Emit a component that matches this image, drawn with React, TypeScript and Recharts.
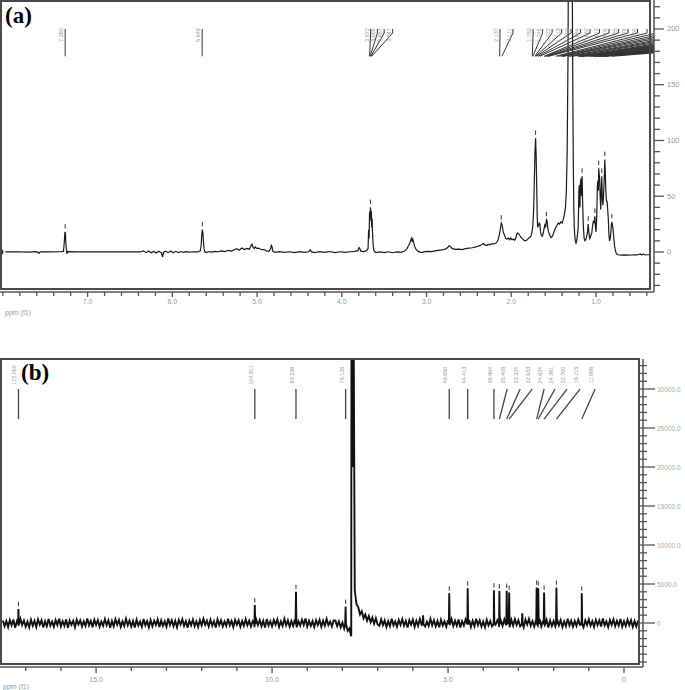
import React from "react";
import {
  ComposedChart,
  Line,
  Scatter,
  XAxis,
  YAxis,
  ReferenceLine,
} from "recharts";

const SANS = "'Liberation Sans', Arial, sans-serif";
const SERIF = "'Liberation Serif', 'Times New Roman', serif";

// ---------- (a) 1H spectrum: [ppm, intensity] ----------
const h1Spectrum: [number, number][] = [
  [8.03, 0], [7.85, 0.2], [7.7, -0.2], [7.6, 0.3], [7.575, -1.2], [7.56, 0.2], [7.45, 0], [7.32, 0.2],
  [7.285, 0.5], [7.275, 9], [7.268, 18], [7.262, 17], [7.255, 6], [7.245, -1.5], [7.235, 0.3], [7.1, 0],
  [6.9, 0.2], [6.7, 0], [6.5, 0.1], [6.38, 0], [6.34, 1], [6.31, -0.6], [6.28, 0.9], [6.25, -0.7],
  [6.22, 0.5], [6.19, -0.9], [6.16, 0.7], [6.13, -0.8], [6.115, -4.5], [6.105, -0.4], [6.08, 0.8],
  [6.05, -0.6], [6.02, 0.9], [5.99, -0.7], [5.96, 0.6], [5.93, -0.5], [5.9, 0.4], [5.87, -0.4],
  [5.84, 0.3], [5.8, -0.2], [5.75, 0.2], [5.7, 0], [5.67, 1], [5.66, 6], [5.652, 16], [5.646, 20],
  [5.64, 18], [5.634, 10], [5.626, 3], [5.615, 0], [5.6, -0.6], [5.57, 0.4], [5.54, -0.2], [5.5, 0.6],
  [5.46, 0.2], [5.42, 1], [5.38, 0.4], [5.34, 1.5], [5.3, 0.8], [5.27, 2], [5.24, 3], [5.21, 1.5],
  [5.18, 3.5], [5.15, 2.2], [5.12, 3.2], [5.09, 2.5], [5.07, 6], [5.06, 7], [5.05, 4.5], [5.035, 3],
  [5.02, 4.5], [5.0, 3], [4.98, 3.5], [4.95, 2], [4.92, 2.2], [4.89, 1], [4.86, 0.6], [4.84, 3],
  [4.832, 6], [4.824, 5], [4.815, 0.8], [4.79, -0.3], [4.74, 0.3], [4.68, -0.4], [4.62, 0.2],
  [4.56, -0.5], [4.5, 0.3], [4.44, -0.3], [4.39, 0.2], [4.37, 2], [4.36, 0.3], [4.32, -0.5],
  [4.26, 0.3], [4.2, -0.4], [4.14, 0.4], [4.08, -0.5], [4.02, 0.2], [3.96, -0.3], [3.9, 0.2],
  [3.85, 0.5], [3.81, 1.2], [3.797, 4], [3.788, 3], [3.776, 0.8], [3.74, 0.4], [3.71, 1.2],
  [3.69, 3], [3.684, 20], [3.678, 12], [3.672, 36], [3.667, 28], [3.662, 40], [3.657, 30],
  [3.652, 37], [3.647, 22], [3.642, 30], [3.637, 16], [3.63, 6], [3.62, 1], [3.6, -0.5], [3.55, 0],
  [3.5, -0.6], [3.45, 0.2], [3.4, -0.7], [3.35, 0], [3.3, -0.4], [3.26, 0.8], [3.23, 3], [3.21, 6],
  [3.195, 8.5], [3.185, 11], [3.175, 12.5], [3.168, 9], [3.16, 11], [3.15, 8], [3.14, 5],
  [3.125, 2.5], [3.1, 0.5], [3.06, -0.6], [3.02, 0.3], [2.98, 0.6], [2.94, 0.4], [2.9, 1],
  [2.86, 1.5], [2.82, 1.8], [2.78, 2.5], [2.75, 4], [2.735, 5.5], [2.72, 5], [2.7, 3.2], [2.66, 2.4],
  [2.62, 2.6], [2.58, 2.2], [2.54, 3], [2.5, 3.5], [2.46, 3.8], [2.42, 4.5], [2.38, 5.5], [2.35, 6.5],
  [2.33, 7.5], [2.31, 6.2], [2.29, 6], [2.27, 6.8], [2.25, 6.5], [2.23, 7.2], [2.2, 7.5], [2.18, 8],
  [2.16, 10], [2.145, 14], [2.13, 20], [2.118, 26], [2.108, 24], [2.095, 18], [2.08, 15], [2.065, 12],
  [2.05, 11.5], [2.035, 12.5], [2.02, 11], [2.005, 12.5], [1.99, 11], [1.975, 11.5], [1.96, 10.5],
  [1.945, 13], [1.935, 16], [1.925, 17], [1.915, 16.5], [1.9, 15], [1.885, 13], [1.87, 12],
  [1.85, 10.5], [1.835, 10], [1.82, 10.5], [1.8, 12], [1.785, 13], [1.77, 14], [1.76, 16],
  [1.752, 20], [1.745, 24], [1.735, 40], [1.726, 70], [1.72, 90], [1.713, 102], [1.707, 88],
  [1.7, 60], [1.694, 32], [1.688, 22], [1.68, 24], [1.67, 26], [1.662, 25], [1.655, 18], [1.645, 15],
  [1.635, 14], [1.625, 16], [1.615, 20], [1.605, 24], [1.595, 22], [1.585, 29], [1.578, 28],
  [1.57, 22], [1.56, 18], [1.545, 15], [1.53, 13], [1.515, 14], [1.5, 17], [1.487, 20], [1.475, 22],
  [1.46, 24], [1.445, 26], [1.43, 25], [1.415, 27], [1.4, 26], [1.387, 29], [1.375, 33], [1.36, 40],
  [1.35, 55], [1.34, 90], [1.33, 180], [1.327, 240], [1.305, 700], [1.28, 240], [1.274, 150],
  [1.268, 80], [1.262, 40], [1.256, 22], [1.25, 14], [1.244, 10], [1.236, 8], [1.228, 10],
  [1.218, 16], [1.21, 22], [1.202, 55], [1.196, 60], [1.19, 40], [1.183, 62], [1.176, 66], [1.17, 50],
  [1.164, 68], [1.158, 45], [1.15, 24], [1.14, 12], [1.13, 10], [1.12, 11], [1.11, 14], [1.1, 18],
  [1.092, 25], [1.085, 18], [1.075, 12], [1.068, 13], [1.06, 15], [1.05, 17], [1.04, 24], [1.03, 28],
  [1.022, 26], [1.014, 32], [1.006, 22], [1.0, 18], [0.992, 30], [0.984, 58], [0.978, 64],
  [0.972, 55], [0.968, 75], [0.963, 70], [0.957, 66], [0.95, 48], [0.944, 38], [0.938, 55],
  [0.932, 68], [0.926, 50], [0.92, 42], [0.912, 48], [0.906, 60], [0.9, 72], [0.896, 83], [0.89, 70],
  [0.884, 55], [0.876, 45], [0.87, 46], [0.862, 38], [0.855, 30], [0.848, 16], [0.84, 10],
  [0.832, 12], [0.824, 18], [0.818, 25], [0.813, 27], [0.806, 24], [0.798, 20], [0.79, 12],
  [0.78, 5], [0.77, 1], [0.76, -1.5], [0.74, -2.5], [0.7, -2.8], [0.66, -2.6], [0.62, -2.8],
  [0.58, -2.7], [0.54, -2.6], [0.5, -2.5], [0.48, -1.8], [0.46, -2.6], [0.44, -2], [0.42, -2.7],
  [0.4, -2.5], [0.36, -2.5],
];

// peak-pick markers (ppm, peak top)
const h1PeakTops: [number, number][] = [
  [7.265, 18], [5.646, 20], [3.662, 40], [2.118, 26], [1.713, 102], [1.585, 29], [1.164, 68],
  [1.092, 25], [1.014, 32], [0.968, 75], [0.932, 68], [0.896, 83], [0.813, 27],
];

// peak labels: picked shift + shown text
const h1LabelPeaks = [7.265, 5.648, 3.672, 3.665, 3.657, 3.647, 2.137, 2.111];
const h1LabelTexts = ["7.260", "5.648", "3.672", "3.665", "3.657", "3.647", "2.137", "2.111"];
const h1LabelAt = [7.265, 5.648, 3.66, 3.58, 3.5, 3.4, 2.133, 1.98];

// dense aliphatic group of picked peaks
const h1FanPeaks = [
  1.752, 1.745, 1.722, 1.713, 1.703, 1.684, 1.662, 1.612, 1.605, 1.585, 1.578, 1.56, 1.475, 1.445,
  1.415, 1.4, 1.387, 1.327, 1.305, 1.28, 1.218, 1.202, 1.195, 1.183, 1.176, 1.164, 1.128, 1.092,
  1.065, 1.034, 1.022, 1.014, 0.984, 0.978, 0.968, 0.957, 0.932, 0.906, 0.896, 0.813,
];
const h1FanStart = 1.742;
const h1FanStep = 0.112;
const h1LabelMin = 0.42; // labels right of this fall outside the frame

const h1XTicks = [
  8.0, 7.8, 7.6, 7.4, 7.2, 7.0, 6.8, 6.6, 6.4, 6.2, 6.0, 5.8, 5.6, 5.4, 5.2, 5.0, 4.8, 4.6, 4.4, 4.2,
  4.0, 3.8, 3.6, 3.4, 3.2, 3.0, 2.8, 2.6, 2.4, 2.2, 2.0, 1.8, 1.6, 1.4, 1.2, 1.0, 0.8, 0.6, 0.4,
];
const h1YTicks = [
  -30, -20, -10, 0, 10, 20, 30, 40, 50, 60, 70, 80, 90, 100, 110, 120, 130, 140, 150, 160, 170,
  180, 190, 200, 210, 220,
];

// ---------- (b) 13C spectrum ----------
// baseline noise, every 0.5 ppm from 176.5 down to 82.5
const c13NoiseHigh = [
  320, -410, 250, -520, 380, -300, 460, -610, 210, -380, 540, -260, 330, -470, 190, -560, 420, -340, 280, -500,
  450, -220, 360, -590, 240, -410, 510, -330, 170, -480, 390, -270, 560, -420, 230, -350, 470, -600, 310, -240,
  280, -530, 410, -190, 350, -460, 220, -380, 590, -310, 260, -540, 430, -250, 370, -470, 200, -360, 500, -290,
  340, -610, 270, -420, 480, -230, 390, -500, 210, -370, 550, -280, 310, -450, 260, -580, 420, -330, 180, -490,
  520, -300, 240, -560, 370, -410, 290, -250, 460, -520, 330, -380, 210, -470, 580, -260, 350, -430, 270, -540,
  390, -220, 480, -360, 250, -600, 310, -290, 440, -410, 200, -500, 370, -320, 530, -240, 280, -460, 410, -350,
  230, -570, 460, -270, 340, -440, 190, -390, 560, -310, 270, -520, 400, -230, 350, -480, 250, -360, 490, -280,
  310, -450, 220, -540, 430, -260, 370, -400, 280, -590, 500, -320, 240, -430, 380, -210, 460, -510, 200, -370,
  540, -290, 330, -470, 260, -360, 450, -550, 220, -330, 410, -250, 570, -440, 290, -380, 240, -520, 360, -270,
  410, -480, 300, -350, 520, -260, 190, -430, 350,
];
// around the CDCl3 signal, every 0.5 ppm from 82 down to 70
const c13Solvent = [
  300, -400, 200, -550, 50, -700, -250, -1000, -700, -1700, 20000, 4200, 2400, 2000, 1100, 1500,
  600, 1100, 300, 900, 100, 700, -100, 600, -200,
];
// every 0.5 ppm from 69.5 down to -4.0
const c13NoiseLow = [
  -380, 450, -270, 330, -520, 240, -410, 560, -300, 210, -470, 390, -250, 480, -340, 270, -590, 360, -220, 430,
  -500, 290, -360, 520, -240, 410, -450, 180, -380, 540, -290, 350, -430, 260, -560, 400, -310, 220, -480, 370,
  -260, 510, -400, 300, -350, 440, -570, 230, -320, 470, -210, 380, -490, 280, -420, 550, -270, 340, -460, 200,
  -530, 420, -300, 260, -440, 580, -230, 350, -510, 310, -370, 450, -280, 190, -540, 400, -330, 490, -250, 360,
  -410, 270, -560, 430, -200, 520, -350, 240, -470, 380, -300, 560, -420, 290, -260, 410, -590, 330, -380, 250,
  -450, 480, -290, 370, -520, 210, -400, 540, -330, 300, -480, 260, -370, 430, -240, 500, -560, 320, -280, 450,
  -360, 230, -500, 410, -270, 350, -440, 580, -310, 200, -520, 390, -250, 470, -400, 280, -330, 510, -460, 240,
  -380, 420, -290, 360, -510, 270, -440, 330,
];
const c13Peaks: [number, number][] = [
  [172.05, 1800], [104.9, 2300], [93.2, 4000], [79.1, 2100], [57.1, 1000], [49.65, 3800],
  [44.41, 4450], [36.96, 4200], [35.41, 4100], [33.32, 4150], [32.63, 3900], [28.9, 1250],
  [24.82, 4550], [24.36, 4450], [22.7, 3900], [19.2, 4550], [12.0, 3800],
];
const c13SolventLines: [number, number][] = [[77.42, 48000], [77.16, 52000], [76.9, 48000]];
const c13Marked = [172.05, 104.9, 93.2, 79.1, 49.65, 44.41, 36.96, 35.41, 33.32, 32.63, 24.82, 24.36, 22.7, 19.2, 12.0];
const c13LabelTexts = [
  "172.050", "104.911", "93.236", "79.126", "49.650", "44.413", "36.964", "35.408", "33.324",
  "32.633", "24.824", "24.361", "22.700", "19.215", "11.996",
];
const c13LabelAt = [172.05, 104.9, 93.2, 79.1, 49.65, 44.41, 36.96, 33.2, 29.5, 26.1, 22.7, 19.6, 16.2, 12.5, 8.2];

const c13XTicks = [170, 160, 150, 140, 130, 120, 110, 100, 90, 80, 70, 60, 50, 40, 30, 20, 10, 0];
const c13YTicks = [
  -5000, -4000, -3000, -2000, -1000, 0, 1000, 2000, 3000, 4000, 5000, 6000, 7000, 8000, 9000,
  10000, 11000, 12000, 13000, 14000, 15000, 16000, 17000, 18000, 19000, 20000, 21000, 22000,
  23000, 24000, 25000, 26000, 27000, 28000, 29000, 30000, 31000, 32000, 33000,
];

// ---------- tables ----------
const h1Data = h1Spectrum.map(([x, y]) => ({ x, y }));

const c13Base: [number, number][] = [
  ...c13NoiseHigh.map((v, i) => [176.5 - i * 0.5, v] as [number, number]),
  ...c13Solvent.map((v, i) => [82 - i * 0.5, v] as [number, number]),
  ...c13NoiseLow.map((v, i) => [69.5 - i * 0.5, v] as [number, number]),
];
const c13Data = [
  ...c13Base,
  ...c13Peaks.flatMap(([p, h]) => [[p + 0.12, -150], [p, h], [p - 0.12, -150]] as [number, number][]),
  ...c13SolventLines,
]
  .sort((a, b) => b[0] - a[0])
  .map(([x, y]) => ({ x, y }));

const h1Labels = [
  ...h1LabelAt.map((at, i) => ({ x: at, y: 194.6, text: h1LabelTexts[i] })),
  ...h1FanPeaks.map((p, i) => ({ x: h1FanStart - i * h1FanStep, y: 194.6, text: p.toFixed(3) })),
].filter((l) => l.x >= h1LabelMin);
const h1Links = [
  ...h1LabelAt.map((at, i) => ({ at, peak: h1LabelPeaks[i] })),
  ...h1FanPeaks.map((p, i) => ({ at: h1FanStart - i * h1FanStep, peak: p })),
];
const c13Labels = c13LabelAt.map((at, i) => ({ x: at, y: 31800, text: c13LabelTexts[i] }));

// ---------- ticks ----------
function HXTick(props: any) {
  const { x, y, payload } = props;
  const v = payload.value as number;
  const major = Math.abs(v - Math.round(v)) < 1e-6 && v >= 1 && v <= 7;
  return (
    <g>
      <line x1={x} y1={y} x2={x} y2={y + (major ? 5 : 4)} stroke="#555" strokeWidth={1.3} />
      {major && (
        <text x={x} y={y + 12} textAnchor="middle" fontSize={7} fill="#999" fontFamily={SANS}>
          {v.toFixed(1)}
        </text>
      )}
    </g>
  );
}

function HYTick(props: any) {
  const { x, y, payload } = props;
  const v = payload.value as number;
  const major = v >= 0 && v % 50 === 0;
  return (
    <g>
      <line x1={x} y1={y} x2={x + (major ? 10 : 6)} y2={y} stroke="#555" strokeWidth={1.3} />
      {major && (
        <text x={x + 13} y={y + 2.5} fontSize={7.5} fill="#999" fontFamily={SANS}>
          {v}
        </text>
      )}
    </g>
  );
}

function CXTick(props: any) {
  const { x, y, payload } = props;
  const v = payload.value as number;
  const major = v % 50 === 0;
  return (
    <g>
      <line x1={x} y1={y} x2={x} y2={y + (major ? 6 : 4)} stroke="#555" strokeWidth={1.3} />
      {major && (
        <text x={x} y={y + 15} textAnchor="middle" fontSize={7} fill="#999" fontFamily={SANS}>
          {v === 0 ? "0" : (v / 10).toFixed(1)}
        </text>
      )}
    </g>
  );
}

function CYTick(props: any) {
  const { x, y, payload } = props;
  const v = payload.value as number;
  const major = v >= 0 && v % 5000 === 0;
  return (
    <g>
      <line x1={x - 3} y1={y} x2={x + (major ? 12 : 4)} y2={y} stroke="#555" strokeWidth={1.3} />
      {major && (
        <text x={x + 14} y={y + 2.5} fontSize={6.5} fill="#aaa" fontFamily={SANS}>
          {v === 0 ? "0" : v.toFixed(1)}
        </text>
      )}
    </g>
  );
}

function RotLabel(props: any) {
  const { cx, cy, payload } = props;
  if (cx == null || cy == null) return <g />;
  const tx = cx - 4;
  return (
    <text
      x={tx}
      y={cy}
      transform={`rotate(-90 ${tx} ${cy})`}
      textAnchor="middle"
      dominantBaseline="central"
      fontSize={5.5}
      fill="#999"
      fontFamily={SANS}
    >
      {payload.text}
    </text>
  );
}

const frame = (left: number, top: number, width: number, height: number) => ({
  position: "absolute" as const,
  left,
  top,
  width,
  height,
  border: "2px solid #4a4a4a",
  boxSizing: "border-box" as const,
  pointerEvents: "none" as const,
});

export default function App() {
  return (
    <div
      style={{
        position: "absolute",
        left: 0,
        top: 0,
        width: 685,
        height: 690,
        background: "#fff",
        overflow: "hidden",
      }}
    >
      {/* (a) 1H NMR */}
      <div style={{ position: "absolute", left: 0, top: 0 }}>
        <ComposedChart width={685} height={320} margin={{ top: 0, right: 0, bottom: 0, left: 0 }}>
          <XAxis
            type="number"
            dataKey="x"
            domain={[0.3155, 8.034]}
            reversed
            allowDataOverflow
            ticks={h1XTicks}
            interval={0}
            tick={<HXTick />}
            tickLine={false}
            tickSize={0}
            tickMargin={0}
            height={28}
            axisLine={{ stroke: "#555", strokeWidth: 1.5 }}
          />
          <YAxis
            type="number"
            orientation="right"
            domain={[-35.9, 226]}
            allowDataOverflow
            ticks={h1YTicks}
            interval={0}
            tick={<HYTick />}
            tickLine={false}
            tickSize={0}
            tickMargin={0}
            width={31}
            axisLine={{ stroke: "#555", strokeWidth: 1.5 }}
          />
          <Line
            data={h1Data}
            dataKey="y"
            type="linear"
            stroke="#1a1a1a"
            strokeWidth={1.2}
            dot={false}
            isAnimationActive={false}
          />
          {h1Links.flatMap((l, i) => [
            <ReferenceLine
              key={`hv${i}`}
              segment={[{ x: l.at, y: 200 }, { x: l.at, y: 196.4 }]}
              stroke="#333"
              strokeWidth={1}
              ifOverflow="hidden"
            />,
            <ReferenceLine
              key={`hd${i}`}
              segment={[{ x: l.at, y: 196.4 }, { x: l.peak, y: 175.5 }]}
              stroke="#333"
              strokeWidth={1}
              ifOverflow="hidden"
            />,
          ])}
          {h1PeakTops.map(([p, h], i) => (
            <ReferenceLine
              key={`hm${i}`}
              segment={[{ x: p, y: h + 3 }, { x: p, y: h + 7 }]}
              stroke="#333"
              strokeWidth={1}
              ifOverflow="hidden"
            />
          ))}
          <Scatter data={h1Labels} dataKey="y" shape={<RotLabel />} isAnimationActive={false} />
        </ComposedChart>
      </div>

      {/* (b) 13C NMR */}
      <div style={{ position: "absolute", left: 0, top: 340 }}>
        <ComposedChart width={685} height={350} margin={{ top: 19, right: 0, bottom: 0, left: 0 }}>
          <XAxis
            type="number"
            dataKey="x"
            domain={[-5.4, 177.3]}
            reversed
            allowDataOverflow
            ticks={c13XTicks}
            interval={0}
            tick={<CXTick />}
            tickLine={false}
            tickSize={0}
            tickMargin={0}
            height={23}
            axisLine={{ stroke: "#555", strokeWidth: 1.5 }}
          />
          <YAxis
            type="number"
            orientation="right"
            domain={[-5641, 33850]}
            allowDataOverflow
            ticks={c13YTicks}
            interval={0}
            tick={<CYTick />}
            tickLine={false}
            tickSize={0}
            tickMargin={0}
            width={42}
            axisLine={{ stroke: "#555", strokeWidth: 1.5 }}
          />
          <Line
            data={c13Data}
            dataKey="y"
            type="linear"
            stroke="#111"
            strokeWidth={1.9}
            dot={false}
            isAnimationActive={false}
          />
          {c13LabelAt.map((at, i) => (
            <ReferenceLine
              key={`cl${i}`}
              segment={[{ x: at, y: 30000 }, { x: c13Marked[i], y: 26150 }]}
              stroke="#444"
              strokeWidth={1.3}
              ifOverflow="hidden"
            />
          ))}
          {c13Peaks
            .filter(([p]) => c13Marked.includes(p))
            .map(([p, h], i) => (
              <ReferenceLine
                key={`cm${i}`}
                segment={[{ x: p, y: h + 350 }, { x: p, y: h + 900 }]}
                stroke="#333"
                strokeWidth={1}
                ifOverflow="hidden"
              />
            ))}
          <Scatter data={c13Labels} dataKey="y" shape={<RotLabel />} isAnimationActive={false} />
        </ComposedChart>
      </div>

      <div style={frame(0, 0, 651, 290)} />
      <div style={frame(0, 358, 640, 307)} />

      <div
        style={{
          position: "absolute",
          left: 5,
          top: 4,
          fontFamily: SERIF,
          fontWeight: "bold",
          fontSize: 23,
          lineHeight: "23px",
        }}
      >
        (a)
      </div>
      <div
        style={{
          position: "absolute",
          left: 21,
          top: 361,
          fontFamily: SERIF,
          fontWeight: "bold",
          fontSize: 23,
          lineHeight: "23px",
        }}
      >
        (b)
      </div>
      <div style={{ position: "absolute", left: 5, top: 309, fontFamily: SANS, fontSize: 7, color: "#999" }}>
        ppm (f1)
      </div>
      <div style={{ position: "absolute", left: 3, top: 683, fontFamily: SANS, fontSize: 7, color: "#999" }}>
        ppm (f1)
      </div>
    </div>
  );
}
